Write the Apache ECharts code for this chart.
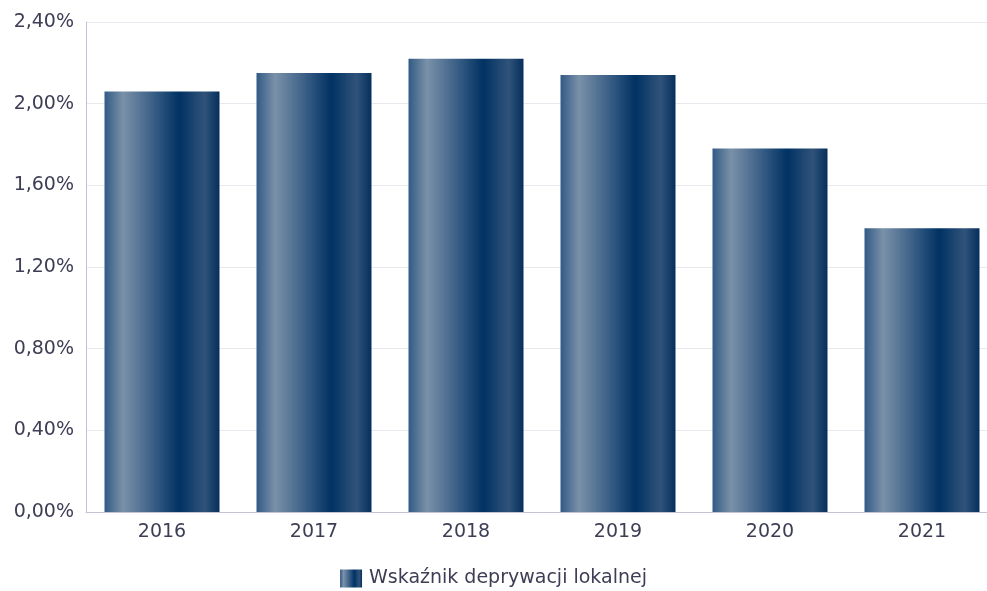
<!DOCTYPE html>
<html>
<head>
<meta charset="utf-8">
<script src="https://cdn.jsdelivr.net/npm/echarts@6/dist/echarts.min.js"></script>
<style>
  html, body { margin: 0; padding: 0; background: #fff; }
  #chart { width: 987px; height: 591px; }
</style>
</head>
<body>
<div id="chart"></div>
<script>
var years = ['2016', '2017', '2018', '2019', '2020', '2021'];
var values = [2.06, 2.15, 2.22, 2.14, 1.78, 1.39];
var seriesName = 'Wskaźnik deprywacji lokalnej';

var chart = echarts.init(document.getElementById('chart'));

// gradient poziomy jak w oryginale
var barColor = new echarts.graphic.LinearGradient(0, 0, 1, 0, [
    { offset: 0, color: '#325a85' },
    { offset: 0.16, color: '#7a91a9' },
    { offset: 0.4, color: '#406389' },
    { offset: 0.65, color: '#003263' },
    { offset: 0.87, color: '#30537a' },
    { offset: 1, color: '#062f5d' }
]);

var textColor = '#3d3d55';
var font = '"DejaVu Sans", sans-serif';

var option = {
    animation: false,
    legend: {
        data: [seriesName],
        top: 564,
        left: 'center',
        icon: 'rect',
        itemWidth: 22,
        itemHeight: 18,
        itemGap: 5,
        textStyle: { color: textColor, fontSize: 19, fontFamily: font, padding: [0, 0, 0, 2] }
    },
    grid: {
        left: 86,
        top: 22,
        width: 912,
        height: 490,
        outerBoundsMode: 'none'
    },
    xAxis: {
        type: 'category',
        data: years,
        axisTick: { show: false },
        axisLine: { lineStyle: { color: '#c3c3d3', width: 1 } },
        axisLabel: { color: textColor, fontSize: 19, fontFamily: font, margin: 11 }
    },
    yAxis: {
        type: 'value',
        min: 0,
        max: 2.4,
        interval: 0.4,
        axisLine: { show: true, lineStyle: { color: '#c3c3d3' } },
        axisTick: { show: false },
        splitLine: { lineStyle: { color: '#e8e8ee' } },
        axisLabel: {
            color: textColor,
            fontSize: 19,
            fontFamily: font,
            margin: 12,
            formatter: function (v) {
                return v.toFixed(2).replace('.', ',') + '%';
            }
        }
    },
    series: [{
        name: seriesName,
        type: 'bar',
        data: values,
        barWidth: 115,
        itemStyle: { color: barColor }
    }]
};

chart.setOption(option);
</script>
</body>
</html>
